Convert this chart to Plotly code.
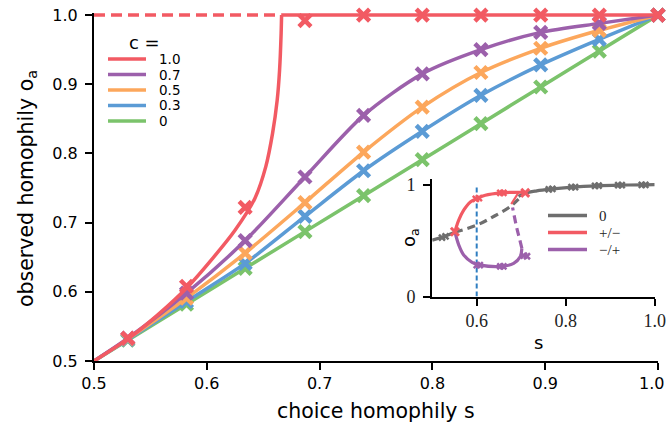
import plotly.graph_objects as go

# ---------------- main panel data ----------------
c_labels = ["1.0", "0.7", "0.5", "0.3", "0"]
colors = ["#f25a63", "#9c60ab", "#fca75c", "#5b9bd5", "#7bc36b"]

# simulation markers (choice homophily s)
s_marks = [0.53, 0.582, 0.634, 0.687, 0.739, 0.791, 0.843, 0.896, 0.948, 1.0]
o_marks = {
    "1.0": [0.533, 0.608, 0.722, 0.992, 1.0, 1.0, 1.0, 1.0, 1.0, 1.0],
    "0.7": [0.533, 0.598, 0.674, 0.766, 0.855, 0.915, 0.950, 0.975, 0.988, 1.0],
    "0.5": [0.532, 0.591, 0.656, 0.729, 0.802, 0.867, 0.917, 0.952, 0.978, 1.0],
    "0.3": [0.531, 0.586, 0.641, 0.709, 0.775, 0.832, 0.884, 0.928, 0.965, 1.0],
    "0":   [0.530, 0.582, 0.634, 0.687, 0.739, 0.791, 0.843, 0.896, 0.948, 1.0],
}

# theory curves
s_curve = [0.5, 0.53, 0.582, 0.634, 0.687, 0.739, 0.791, 0.843, 0.896, 0.948, 1.0]
o_curve = {
    "0.7": [0.5, 0.533, 0.598, 0.674, 0.766, 0.855, 0.915, 0.950, 0.975, 0.988, 1.0],
    "0.5": [0.5, 0.532, 0.591, 0.656, 0.729, 0.802, 0.867, 0.917, 0.952, 0.978, 1.0],
    "0.3": [0.5, 0.531, 0.586, 0.641, 0.709, 0.775, 0.832, 0.884, 0.928, 0.965, 1.0],
    "0":   [0.5, 0.530, 0.582, 0.634, 0.687, 0.739, 0.791, 0.843, 0.896, 0.948, 1.0],
}
# c = 1: rising branch up to the transition, then saturated at 1
s_c1_rise = [0.5, 0.53, 0.556, 0.583, 0.605, 0.625, 0.6426, 0.6523, 0.6583, 0.6624, 0.6645, 0.6659, 0.6663]
o_c1_rise = [0.5, 0.532, 0.566, 0.607, 0.648, 0.689, 0.735, 0.781, 0.829, 0.877, 0.92, 0.974, 1.0]
s_c1_flat = [0.6663, 1.0]
o_c1_flat = [1.0, 1.0]
s_c1_unstable = [0.5, 0.6663]
o_c1_unstable = [1.0, 1.0]

x_ticks = [0.5, 0.6, 0.7, 0.8, 0.9, 1.0]
x_ticktext = ["0.5", "0.6", "0.7", "0.8", "0.9", "1.0"]
y_ticks = [0.5, 0.6, 0.7, 0.8, 0.9, 1.0]
y_ticktext = ["0.5", "0.6", "0.7", "0.8", "0.9", "1.0"]

# ---------------- inset data ----------------
inset_labels = ["0", "+/\u2212", "\u2212/+"]
inset_colors = ["#6e6e6e", "#f25a63", "#9c60ab"]

s_gray_low = [0.5, 0.526, 0.551]
o_gray_low = [0.504, 0.534, 0.575]
s_gray_mid = [0.551, 0.601, 0.64, 0.675, 0.694]
o_gray_mid = [0.575, 0.64, 0.72, 0.803, 0.87]
s_gray_high = [0.694, 0.71, 0.735, 0.765, 0.815, 0.869, 0.922, 0.975, 1.0]
o_gray_high = [0.895, 0.925, 0.945, 0.96, 0.978, 0.99, 0.996, 0.999, 1.0]
s_gray_pts = [0.522, 0.530, 0.762, 0.770, 0.813, 0.821, 0.866, 0.874, 0.918, 0.926, 0.971, 0.979]
o_gray_pts = [0.527, 0.537, 0.958, 0.962, 0.978, 0.979, 0.990, 0.991, 0.996, 0.996, 0.999, 0.999]

s_red = [0.551, 0.5596, 0.5708, 0.5858, 0.6008, 0.6193, 0.6567, 0.685, 0.709]
o_red = [0.579, 0.683, 0.772, 0.846, 0.877, 0.906, 0.927, 0.932, 0.932]
s_red_back = [0.694, 0.6776]
o_red_back = [0.93, 0.826]
s_red_pts = [0.598, 0.605, 0.653, 0.660]
o_red_pts = [0.873, 0.880, 0.927, 0.927]
s_red_big = [0.551, 0.709]
o_red_big = [0.579, 0.927]

s_purple = [0.551, 0.5598, 0.5708, 0.5896, 0.608, 0.657, 0.683, 0.6977, 0.7015]
o_purple = [0.579, 0.46, 0.3705, 0.305, 0.281, 0.27, 0.296, 0.355, 0.43]
s_purple_dash = [0.7015, 0.696, 0.6903, 0.6806]
o_purple_dash = [0.43, 0.52, 0.609, 0.796]
s_purple_pts = [0.600, 0.607, 0.653, 0.660, 0.706, 0.713]
o_purple_pts = [0.281, 0.281, 0.270, 0.270, 0.365, 0.360]

s_cut = 0.6

# ---------------- layout geometry (pixels) ----------------
W, H = 666, 432
L, R, T, B = 94, 8, 13, 71
PW, PH = W - L - R, H - T - B


def px(x):
    return (x - L) / PW


def py(y):
    return (H - B - y) / PH


SANS = "DejaVu Sans"
SERIF = "Liberation Serif"

fig = go.Figure()

# main curves
fig.add_trace(go.Scatter(x=s_c1_unstable, y=o_c1_unstable, mode="lines",
                         line=dict(color=colors[0], width=3.5, dash="11px,6px"),
                         showlegend=False, hoverinfo="skip"))
for lab, col in zip(c_labels[::-1], colors[::-1]):
    if lab == "1.0":
        fig.add_trace(go.Scatter(x=s_c1_rise, y=o_c1_rise, mode="lines",
                                 line=dict(color=col, width=3.5, shape="spline", smoothing=0.8),
                                 showlegend=False, hoverinfo="skip"))
        fig.add_trace(go.Scatter(x=s_c1_flat, y=o_c1_flat, mode="lines",
                                 line=dict(color=col, width=3.5),
                                 showlegend=False, hoverinfo="skip"))
    else:
        fig.add_trace(go.Scatter(x=s_curve, y=o_curve[lab], mode="lines",
                                 line=dict(color=col, width=3.5, shape="spline", smoothing=0.8),
                                 showlegend=False, hoverinfo="skip"))
    fig.add_trace(go.Scatter(x=s_marks, y=o_marks[lab], mode="markers", cliponaxis=False,
                             marker=dict(symbol="x-thin", size=12, color=col,
                                         line=dict(color=col, width=4.5)),
                             showlegend=False, hoverinfo="skip"))

# inset curves
gray, red, purple = inset_colors
ins = dict(xaxis="x2", yaxis="y2", showlegend=False, hoverinfo="skip")
fig.add_trace(go.Scatter(x=[s_cut, s_cut], y=[0, 1], mode="lines",
                         line=dict(color="#2f7ec1", width=2, dash="5px,3px"), **ins))
fig.add_trace(go.Scatter(x=s_gray_low, y=o_gray_low, mode="lines",
                         line=dict(color=gray, width=3.2), **ins))
fig.add_trace(go.Scatter(x=s_gray_mid, y=o_gray_mid, mode="lines",
                         line=dict(color=gray, width=3.2, dash="8px,5px", shape="spline"), **ins))
fig.add_trace(go.Scatter(x=s_gray_high, y=o_gray_high, mode="lines",
                         line=dict(color=gray, width=3.2, shape="spline"), **ins))
fig.add_trace(go.Scatter(x=s_purple_dash, y=o_purple_dash, mode="lines",
                         line=dict(color=purple, width=3.2, dash="8px,5px", shape="spline"), **ins))
fig.add_trace(go.Scatter(x=s_purple, y=o_purple, mode="lines",
                         line=dict(color=purple, width=3.2, shape="spline"), **ins))
fig.add_trace(go.Scatter(x=s_red_back, y=o_red_back, mode="lines",
                         line=dict(color=red, width=2.2), **ins))
fig.add_trace(go.Scatter(x=s_red, y=o_red, mode="lines",
                         line=dict(color=red, width=3.2, shape="spline"), **ins))
for xs, ys, col in [(s_gray_pts, o_gray_pts, gray), (s_red_pts, o_red_pts, red),
                    (s_purple_pts, o_purple_pts, purple)]:
    fig.add_trace(go.Scatter(x=xs, y=ys, mode="markers", cliponaxis=False,
                             marker=dict(symbol="x-thin", size=6, color=col,
                                         line=dict(color=col, width=2.5)), **ins))
fig.add_trace(go.Scatter(x=s_red_big, y=o_red_big, mode="markers", cliponaxis=False,
                         marker=dict(symbol="x-thin", size=8, color=red,
                                     line=dict(color=red, width=3)), **ins))

shapes = []
annotations = []

# the last x tick label sits at the page edge; keep it right-aligned inside the page
annotations.append(dict(x=px(W - 0.5), y=py(383), xref="paper", yref="paper",
                        text=x_ticktext[-1], showarrow=False,
                        font=dict(family=SANS, size=16, color="black"),
                        xanchor="right", yanchor="middle"))

# main legend
annotations.append(dict(x=px(144), y=py(42), xref="paper", yref="paper", text="c =",
                        showarrow=False, font=dict(family=SANS, size=18, color="black"),
                        xanchor="center", yanchor="middle"))
for i, (lab, col) in enumerate(zip(c_labels, colors)):
    yy = 59 + i * 15.5
    shapes.append(dict(type="line", xref="paper", yref="paper", x0=px(108), x1=px(146),
                       y0=py(yy), y1=py(yy), line=dict(color=col, width=3.5)))
    annotations.append(dict(x=px(157), y=py(yy), xref="paper", yref="paper", text=lab,
                            showarrow=False, font=dict(family=SANS, size=13.5, color="black"),
                            xanchor="left", yanchor="middle"))

# inset legend
for i, (lab, col) in enumerate(zip(inset_labels, inset_colors)):
    yy = 215.5 + i * 17
    shapes.append(dict(type="line", xref="paper", yref="paper", x0=px(548), x1=px(587),
                       y0=py(yy), y1=py(yy), line=dict(color=col, width=3.5)))
    annotations.append(dict(x=px(597), y=py(yy), xref="paper", yref="paper", text=lab,
                            showarrow=False, font=dict(family=SERIF, size=15, color="#222"),
                            xanchor="left", yanchor="middle"))

# axis titles
annotations.append(dict(x=px(376), y=py(411), xref="paper", yref="paper",
                        text="choice homophily s", showarrow=False,
                        font=dict(family=SANS, size=20.5, color="black"),
                        xanchor="center", yanchor="middle"))
annotations.append(dict(x=px(27), y=py(189), xref="paper", yref="paper",
                        text="observed homophily o<sub>a</sub>", showarrow=False, textangle=-90,
                        font=dict(family=SANS, size=20.5, color="black"),
                        xanchor="center", yanchor="middle"))
annotations.append(dict(x=px(538), y=py(342), xref="paper", yref="paper",
                        text="s", showarrow=False,
                        font=dict(family=SANS, size=18, color="black"),
                        xanchor="center", yanchor="middle"))
annotations.append(dict(x=px(410), y=py(238), xref="paper", yref="paper",
                        text="o<sub>a</sub>", showarrow=False, textangle=-90,
                        font=dict(family=SANS, size=18, color="black"),
                        xanchor="center", yanchor="middle"))

axis_common = dict(showgrid=False, zeroline=False, showline=True, linecolor="black",
                   linewidth=2, ticks="outside", ticklen=7, tickwidth=2, tickcolor="black",
                   automargin=False)

# inset placement in pixels
ix0, ix1 = 432.2, 654.7
iy0, iy1 = 296.5, 179.1

fig.update_layout(
    width=W, height=H, autosize=False,
    margin=dict(l=L, r=R, t=T, b=B, autoexpand=False),
    paper_bgcolor="white", plot_bgcolor="rgba(0,0,0,0)",
    showlegend=False,
    xaxis=dict(range=[0.5, 1.0], tickvals=x_ticks,
               ticktext=x_ticktext[:-1] + [""],
               tickfont=dict(family=SANS, size=16, color="black"), **axis_common),
    yaxis=dict(range=[0.5, 1.003], tickvals=y_ticks,
               ticktext=y_ticktext, ticklabelstandoff=4,
               tickfont=dict(family=SANS, size=16, color="black"), **axis_common),
    xaxis2=dict(domain=[px(ix0), px(ix1)], anchor="y2", range=[0.5, 1.0],
                tickvals=[0.6, 0.8, 1.0], ticktext=["0.6", "0.8", "1.0"],
                ticklabeloverflow="allow",
                tickfont=dict(family=SERIF, size=18, color="#222"), **axis_common),
    yaxis2=dict(domain=[py(iy0), py(iy1)], anchor="x2", range=[0, 1.05],
                tickvals=[0, 1], ticktext=["0", "1"], ticklabelstandoff=4,
                tickfont=dict(family=SERIF, size=18, color="#222"), **axis_common),
    shapes=shapes,
    annotations=annotations,
)

fig.write_html("out.html")
